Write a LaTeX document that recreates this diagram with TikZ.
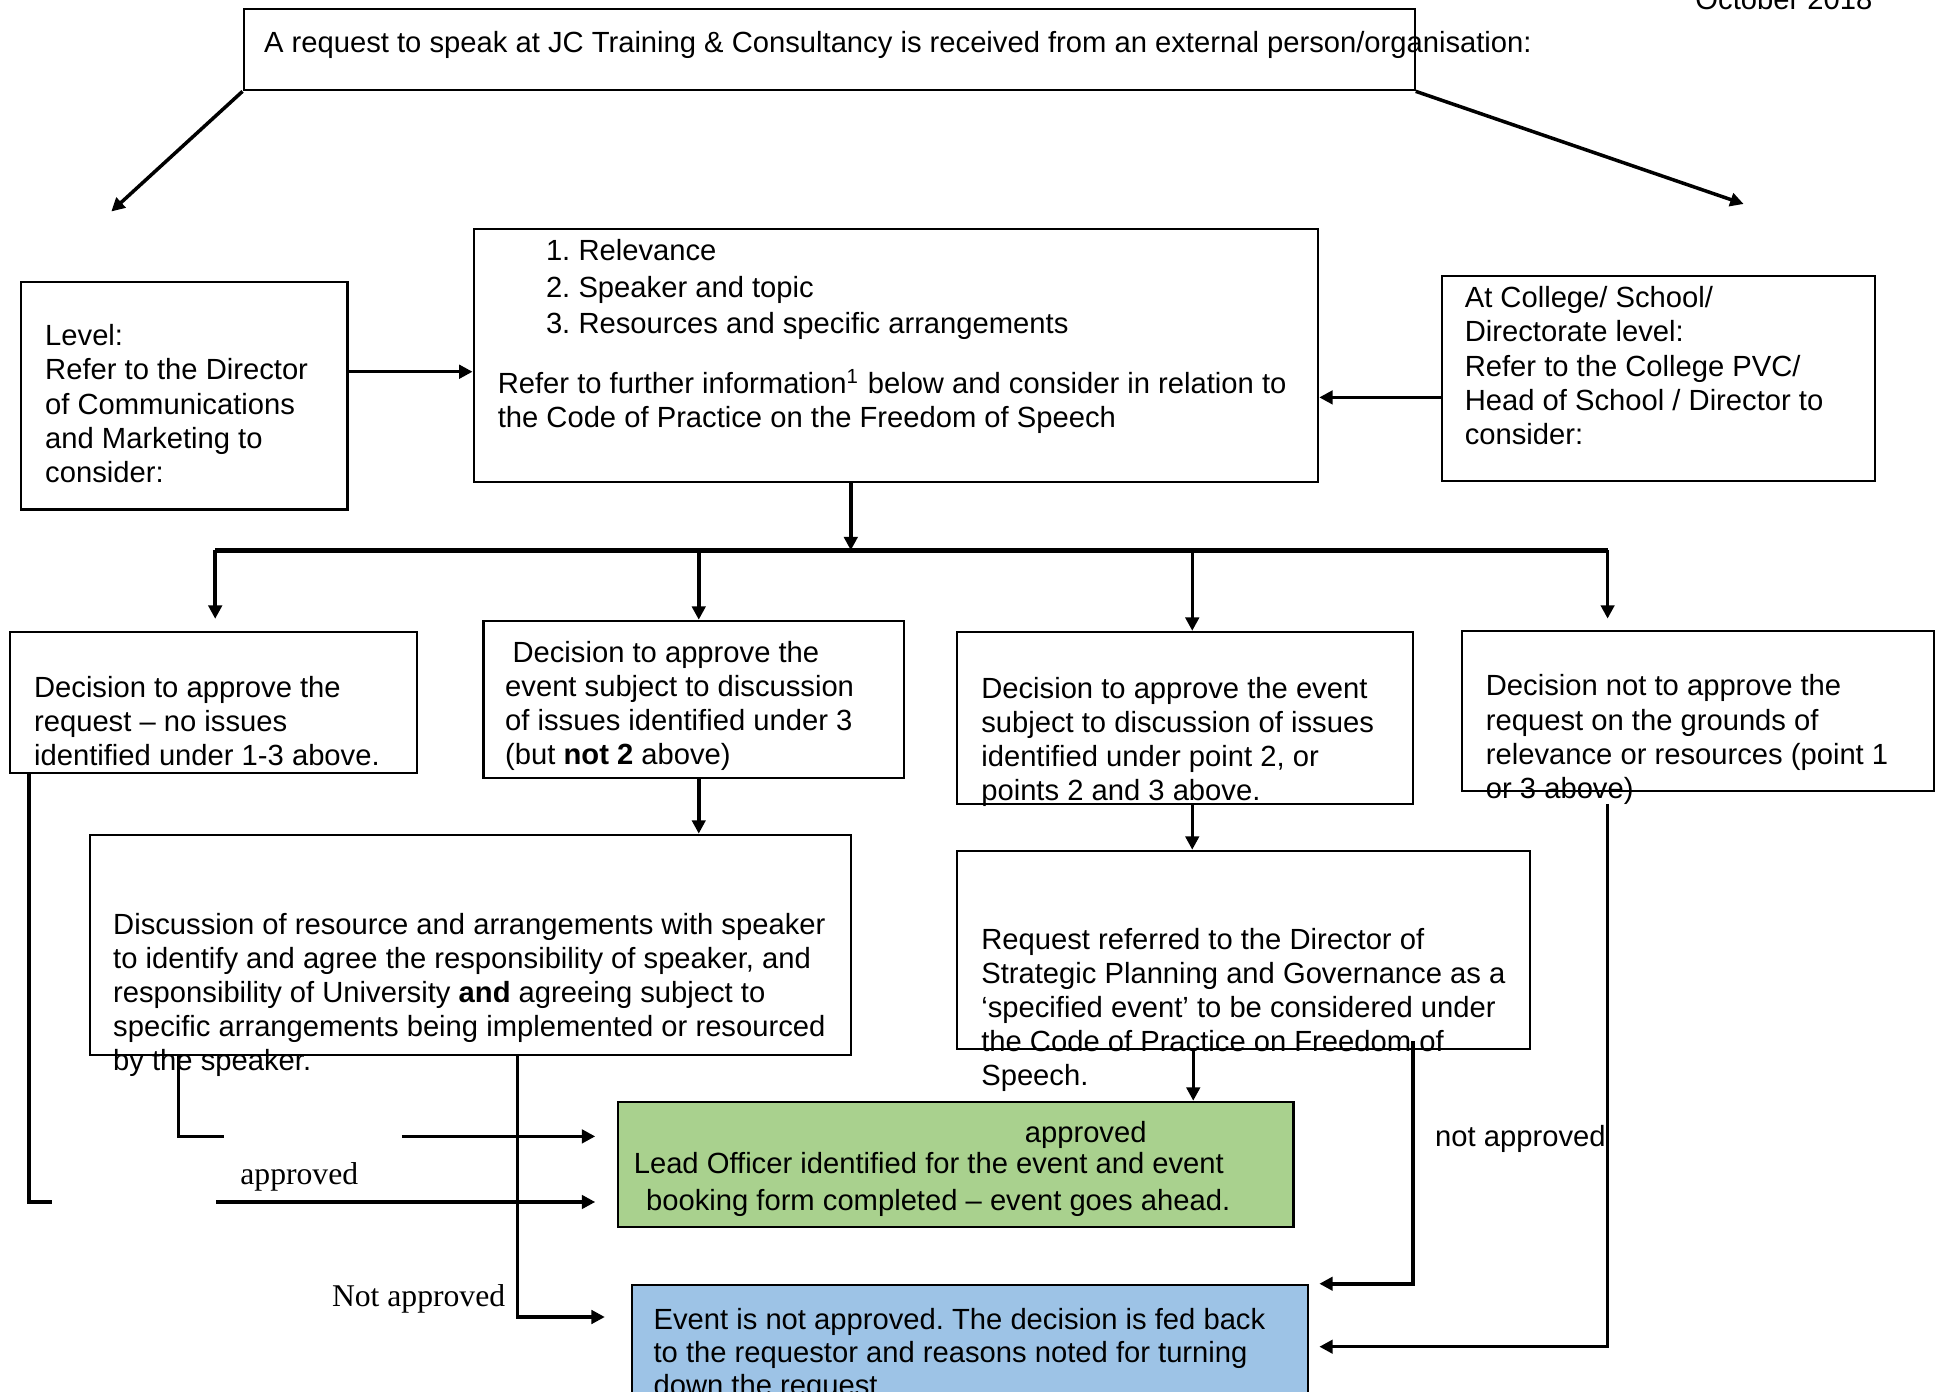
\documentclass[tikz,border=0pt]{standalone}
\usepackage{fontspec}
\setmainfont{Liberation Sans}
\newfontfamily\timesfont{Liberation Serif}
\usetikzlibrary{arrows.meta,fit}
\newcommand{\boxfont}{\fontsize{8.3}{9.7}\selectfont}
\definecolor{aheadgreen}{HTML}{A9D18E}
\definecolor{refuseblue}{HTML}{9DC3E6}
\frenchspacing

\tikzset{
	box/.style={draw, line width=0.6pt, inner sep=0pt},
	txt/.style={anchor=north west, inner sep=0pt, align=left, font=\boxfont},
	flow/.style={line width=1pt},
	arr/.style={line width=1pt, -{Triangle[length=3.8pt,width=3.8pt]}},
	serif/.style={inner sep=0pt, font=\timesfont\fontsize{9}{10}\selectfont},
}

\begin{document}
\begin{tikzpicture}[x=0.01cm, y=-0.01cm]
		%%%%% START %%%%%
		\useasboundingbox (0,0) rectangle (1939,1392);
		
		\node[anchor=base east, inner sep=0pt, font=\boxfont] (date) at (1873,10) {October 2018};
		
		\node[box, fit={(243.6,8.7) (1414.7,90.3)}] (req) {};
		\node[txt] (reqtxt) at (263.4,31) {A request to speak at JC Training \& Consultancy is received from an external person/organisation:};
		
		\node[box, fit={(473.6,228.8) (1318.2,482.3)}] (crit) {};
		\node[txt, font=\fontsize{8.3}{10.4}\selectfont] (critlist) at (545.3,239) {1.\hspace{0.28em}Relevance\\2.\hspace{0.28em}Speaker and topic\\3.\hspace{0.28em}Resources and specific arrangements};
		\node[txt] (critref) at (497.1,368.6) {Refer to further information\textsuperscript{1} below and consider in relation to\\the Code of Practice on the Freedom of Speech};
		
		\node[box, fit={(21,282) (347.5,509.5)}] (lvl) {};
		\node[txt] (lvltxt) at (44.5,324) {Level:\\Refer to the Director\\of Communications\\and Marketing to\\consider:};
		
		\node[box, fit={(1441.9,275.8) (1874.7,481)}] (coll) {};
		\node[txt] (colltxt) at (1464.1,286) {At College/ School/\\Directorate level:\\Refer to the College PVC/\\Head of School / Director to\\consider:};
		
		\coordinate (lvlin) at (111.3,211.5);
		\coordinate (collin) at (1743.6,204);
		\draw[arr] (req.south west) -- (lvlin);
		\draw[arr] (req.south east) -- (collin);
		\draw[arr] ([yshift=0.24cm]lvl.east) -- ([yshift=0.24cm]lvl.east -| crit.west);
		\draw[arr] ([yshift=-0.19cm]coll.west) -- ([yshift=-0.19cm]coll.west -| crit.east);
		
		%%%%% decisions %%%%%
		\node[box, fit={(9.9,631.9) (416.7,772.9)}] (dec1) {};
		\node[txt] (dec1txt) at (33.4,675.3) {Decision to approve the\\request -- no issues\\identified under 1-3 above.};
		
		\node[box, fit={(483.5,620.8) (904,777.8)}] (dec2) {};
		\node[txt] (dec2txt) at (504.5,640.7) {\hspace*{2.1pt}Decision to approve the\\event subject to discussion\\of issues identified under 3\\(but \textbf{not 2} above)};
		
		\node[box, fit={(957.1,631.9) (1413.4,803.8)}] (dec3) {};
		\node[txt] (dec3txt) at (980.6,676.6) {Decision to approve the event\\subject to discussion of issues\\identified under point 2, or\\points 2 and 3 above.};
		
		\node[box, fit={(1461.7,630.7) (1934,791.4)}] (dec4) {};
		\node[txt] (dec4txt) at (1485.2,674.1) {Decision not to approve the\\request on the grounds of\\relevance or resources (point 1\\or 3 above)};
		
		\coordinate (split) at (850.8,550.3);
		\coordinate (barl) at (215.2,550.3);
		\coordinate (barr) at (1607.6,550.3);
		\draw[arr] (crit.south -| split) -- (split);
		\draw[flow, line width=1.4pt] (barl) -- (barr);
		\draw[arr, shorten >=0.12cm] (barl) -- (barl |- dec1.north);
		\draw[arr] ([xshift=0.05cm]barl -| dec2.north) -- ([xshift=0.05cm]dec2.north);
		\draw[arr] ([xshift=0.07cm]barl -| dec3.north) -- ([xshift=0.07cm]dec3.north);
		\draw[arr, shorten >=0.11cm] (barr) -- (barr |- dec4.north);
		
		%%%%% follow up %%%%%
		\node[box, fit={(90.3,834.7) (850.8,1054.8)}] (disc) {};
		\node[txt] (disctxt) at (112.5,912.7) {Discussion of resource and arrangements with speaker\\to identify and agree the responsibility of speaker, and\\responsibility of University \textbf{and} agreeing subject to\\specific arrangements being implemented or resourced\\by the speaker.};
		
		\node[box, fit={(957.1,850.8) (1529.7,1048.6)}] (spec) {};
		\node[txt] (spectxt) at (980.6,927.6) {Request referred to the Director of\\Strategic Planning and Governance as a\\‘specified event’ to be considered under\\the Code of Practice on Freedom of\\Speech.};
		
		\draw[arr] ([xshift=0.05cm]dec2.south) -- ([xshift=0.05cm]dec2.south |- disc.north);
		\draw[arr] ([xshift=0.07cm]dec3.south) -- ([xshift=0.07cm]dec3.south |- spec.north);
		
		%%%%% outcomes %%%%%
		\node[box, fill=aheadgreen, fit={(618.3,1101.8) (1293.5,1226.7)}] (ahead) {};
		\node[inner sep=0pt, font=\boxfont] (aheadlbl) at (1085.7,1135.2) {approved};
		\node[txt, font=\fontsize{8.3}{10.5}\selectfont] (aheadtxt) at (633.1,1151.4) {Lead Officer identified for the event and event\\\hspace*{3.5pt}booking form completed -- event goes ahead.};
		
		\node[box, fill=refuseblue, fit={(631.9,1284.8) (1308.3,1408.6)}] (refuse) {};
		\node[txt, font=\fontsize{8.3}{9.5}\selectfont] (refusetxt) at (652.9,1307.2) {Event is not approved. The decision is fed back\\to the requestor and reasons noted for turning\\down the request};
		
		\draw[arr] ([xshift=0.08cm]dec3.south |- spec.south) -- ([xshift=0.08cm]dec3.south |- ahead.north);
		
		\coordinate (gapa) at (51.9,1202);
		\coordinate (gapb) at (216.4,1202);
		\coordinate (gapc) at (223.8,1136.4);
		\coordinate (gapd) at (401.9,1136.4);
		\coordinate (rowno) at (0,1317);
		\coordinate (d4out) at (1607.6,803.8);
		
		\draw[flow] ([xshift=0.2cm]dec1.south west) |- (gapa);
		\draw[arr, shorten >=0.22cm] (gapb) -- (gapb -| ahead.west);
		\draw[flow] ([xshift=0.89cm]disc.south west) |- (gapc);
		\draw[arr, shorten >=0.22cm] (gapd) -- (gapd -| ahead.west);
		\draw[arr, shorten >=0.26cm] ([xshift=4.28cm]disc.south west) |- (rowno -| refuse.west);
		\draw[arr, shorten >=0.1cm] ([xshift=-1.175cm, yshift=0.086cm]spec.south east) |- (refuse.north east);
		\draw[arr, shorten >=0.1cm] (d4out) |- (refuse.east);
		
		\node[serif] (lblapp) at (299.3,1177.2) {approved};
		\node[serif] (lblnot) at (418.6,1298.4) {Not approved};
		\node[inner sep=0pt, font=\boxfont] (lblno) at (1520.4,1138.9) {not approved};
		%%%%% END %%%%%
\end{tikzpicture}
\end{document}
